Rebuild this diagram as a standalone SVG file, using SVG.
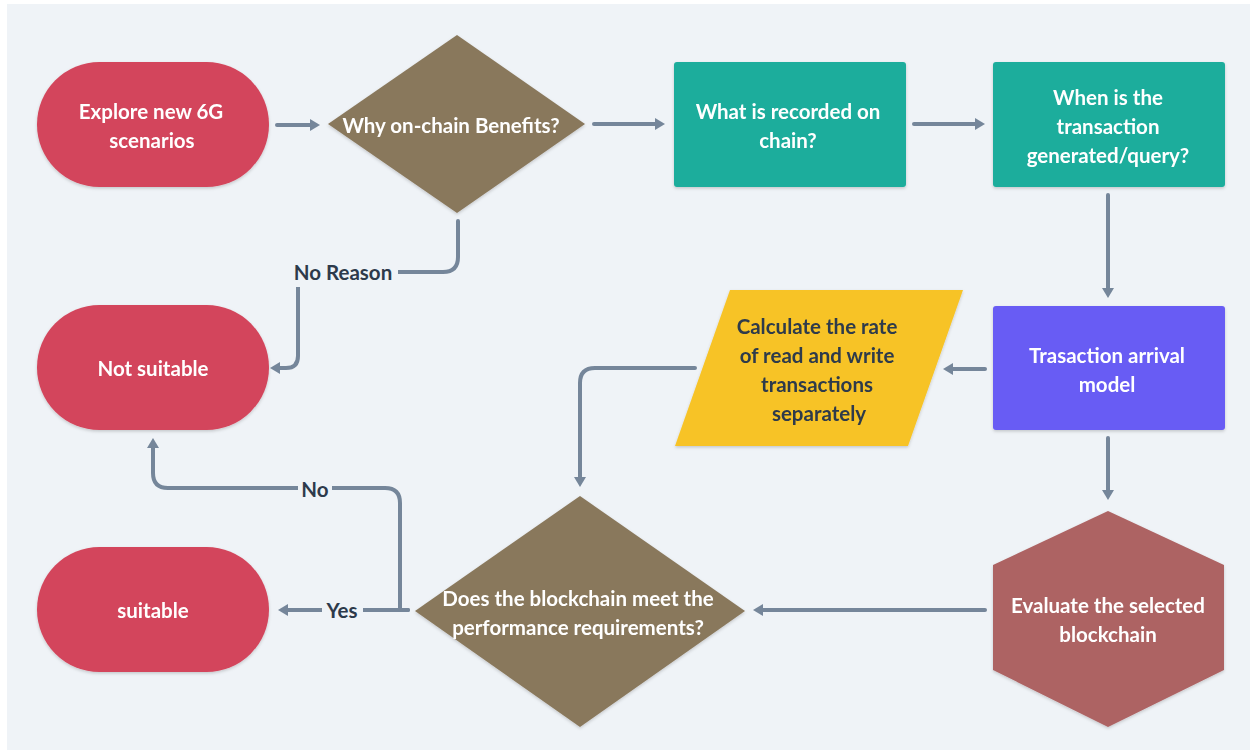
<svg xmlns="http://www.w3.org/2000/svg" width="1250" height="753" viewBox="0 0 1250 753">
<defs>
<style>
.bg{fill:#eff3f7}
.t{font-family:"Lato","Liberation Sans",sans-serif;font-size:20.5px;font-weight:bold;fill:#ffffff;text-anchor:middle;dominant-baseline:central}
.td{fill:#2d3a4b}
.lbl{font-family:"Lato","Liberation Sans",sans-serif;font-size:20.5px;font-weight:bold;fill:#2d3a4b;text-anchor:middle;dominant-baseline:central}
.c{fill:none;stroke:#75869a;stroke-width:4;stroke-linecap:round;stroke-linejoin:round;marker-end:url(#ah)}
.red{fill:#d3455b}
.brown{fill:#89785c}
.teal{fill:#1bad9c}
.purple{fill:#675bf4}
.yellow{fill:#f7c325}
.hex{fill:#ad6363}
</style>
<filter id="sh" x="-10%" y="-10%" width="120%" height="130%">
<feDropShadow dx="0" dy="1.5" stdDeviation="1.5" flood-color="#000" flood-opacity="0.18"/>
</filter>
<marker id="ah" viewBox="0 0 10 12" refX="1" refY="6" markerWidth="10" markerHeight="12" markerUnits="userSpaceOnUse" orient="auto">
<path d="M0,0 L10,6 L0,12 z" fill="#75869a"/>
</marker>
</defs>
<rect x="0" y="0" width="1250" height="753" fill="#ffffff"/>
<rect class="bg" x="7" y="4" width="1243" height="746"/>

<g id="connectors">
<path class="c" d="M277,125 H311"/>
<path class="c" d="M594,124 H656"/>
<path class="c" d="M914,124 H976"/>
<path class="c" d="M1108,195 V289"/>
<path class="c" d="M985,369 H952"/>
<path class="c" d="M695,368 H595 Q580,368 580,383 V478"/>
<path class="c" d="M1108,438 V491"/>
<path class="c" d="M985,610 H762"/>
<path class="c" d="M408,610 H287"/>
<path class="c" d="M408,610 H400 V503 Q400,488 385,488 H168 Q153,488 153,473 V447"/>
<path class="c" d="M458,221 V257 Q458,272 443,272 H313 Q298,272 298,287 V356 Q298,368 286,368 H279"/>
<rect class="bg" x="289" y="258" width="109" height="29"/>
<text class="lbl" x="343" y="272">No Reason</text>
<rect class="bg" x="298" y="476" width="34" height="26"/>
<text class="lbl" x="315" y="489">No</text>
<rect class="bg" x="322" y="597" width="41" height="26"/>
<text class="lbl" x="342" y="610">Yes</text>
</g>

<g id="explore" filter="url(#sh)">
<rect class="red" x="37" y="62" width="232" height="125" rx="62.5"/>
<text class="t" x="151" y="111">Explore new 6G</text>
<text class="t" x="152" y="140">scenarios</text>
</g>

<g id="why" filter="url(#sh)">
<polygon class="brown" points="457,35 585,124 457,213 328,124"/>
<text class="t" x="451" y="125">Why on-chain Benefits?</text>
</g>

<g id="what" filter="url(#sh)">
<rect class="teal" x="674" y="62" width="232" height="125" rx="3"/>
<text class="t" x="788" y="111">What is recorded on</text>
<text class="t" x="788" y="140">chain?</text>
</g>

<g id="when" filter="url(#sh)">
<rect class="teal" x="993" y="62" width="232" height="125" rx="3"/>
<text class="t" x="1108" y="97">When is the</text>
<text class="t" x="1108" y="126">transaction</text>
<text class="t" x="1108" y="155">generated/query?</text>
</g>

<g id="arrival" filter="url(#sh)">
<rect class="purple" x="993" y="306" width="232" height="124" rx="3"/>
<text class="t" x="1107" y="355">Trasaction arrival</text>
<text class="t" x="1107" y="384">model</text>
</g>

<g id="calculate" filter="url(#sh)">
<polygon class="yellow" points="730,290 963,290 908,446 675,446"/>
<text class="t td" x="817" y="326">Calculate the rate</text>
<text class="t td" x="817" y="355">of read and write</text>
<text class="t td" x="817" y="384">transactions</text>
<text class="t td" x="819" y="413">separately</text>
</g>

<g id="evaluate" filter="url(#sh)">
<polygon class="hex" points="1108,511 1224,565 1224,670 1108,727 993,670 993,565"/>
<text class="t" x="1108" y="605">Evaluate the selected</text>
<text class="t" x="1108" y="634">blockchain</text>
</g>

<g id="meet" filter="url(#sh)">
<polygon class="brown" points="580,496 745,611 580,727 415,611"/>
<text class="t" x="578" y="598">Does the blockchain meet the</text>
<text class="t" x="578" y="627">performance requirements?</text>
</g>

<g id="notsuitable" filter="url(#sh)">
<rect class="red" x="37" y="305" width="232" height="125" rx="62.5"/>
<text class="t" x="153" y="368">Not suitable</text>
</g>

<g id="suitable" filter="url(#sh)">
<rect class="red" x="37" y="547" width="232" height="125" rx="62.5"/>
<text class="t" x="153" y="610">suitable</text>
</g>
</svg>
